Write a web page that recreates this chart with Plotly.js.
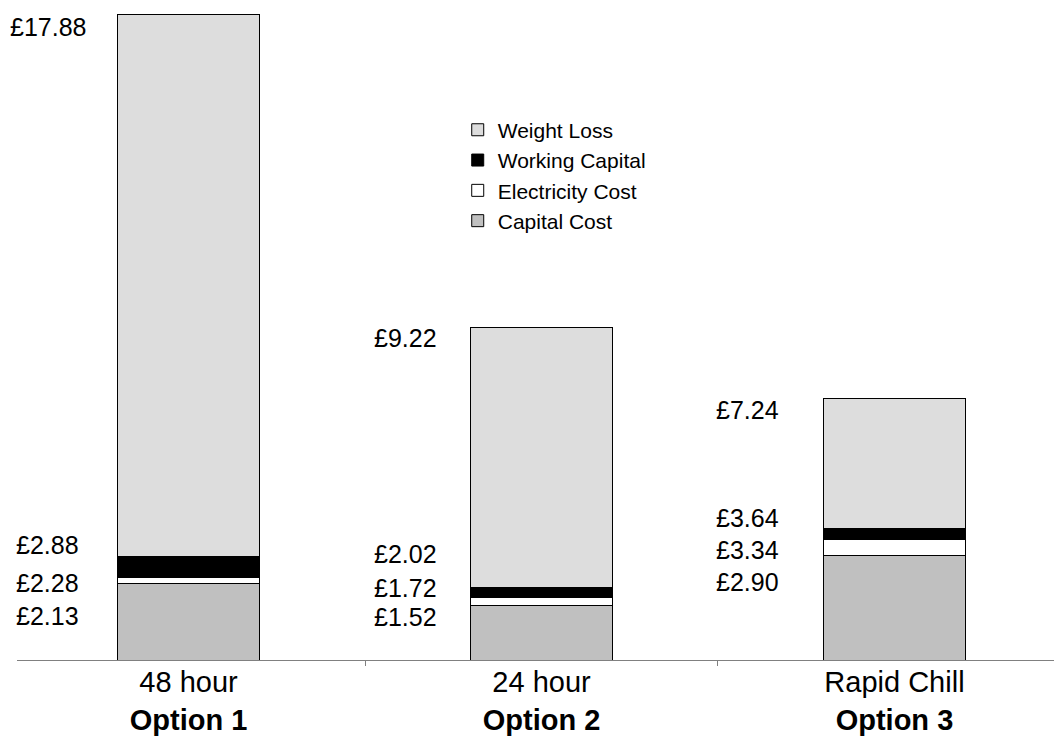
<!DOCTYPE html>
<html>
<head>
<meta charset="utf-8">
<script src="https://cdn.plot.ly/plotly-3.0.1.min.js"></script>
<style>html,body{margin:0;padding:0;background:#fff;}#chart{width:1054px;height:738px;}</style>
</head>
<body>
<div id="chart"></div>
<script>
// ---- data ----
var categories = ['48 hour', '24 hour', 'Rapid Chill'];
var optionNames = ['Option 1', 'Option 2', 'Option 3'];
var capitalCost = [2.13, 1.52, 2.90];
var electricityCost = [0.15, 0.20, 0.44];
var workingCapital = [0.60, 0.30, 0.30];
var weightLoss = [15.00, 7.20, 3.60];
var seriesNames = ['Capital Cost', 'Electricity Cost', 'Working Capital', 'Weight Loss'];

// ---- styles / label placement (pixel offsets, not data) ----
var seriesColors = ['#c0c0c0', '#ffffff', '#000000', '#dddddd'];
var labelShiftX = [-141, -136, -147];
var labelShiftDown = [[33, 5, -11, 12], [12, -10, -33, 11], [27, 11, -11, 11]];

var series = [capitalCost, electricityCost, workingCapital, weightLoss];
var traces = series.map(function (vals, i) {
  return {
    type: 'bar',
    name: seriesNames[i],
    x: categories,
    y: vals,
    width: 0.402,
    legendgroup: 'g' + i,
    legendrank: series.length - i,
    marker: {color: seriesColors[i], line: {color: '#000000', width: 1}},
    hoverinfo: 'skip'
  };
});

var annotations = [];
categories.forEach(function (c, ci) {
  var cum = 0;
  series.forEach(function (vals, si) {
    cum += vals[ci];
    annotations.push({
      x: c, y: cum, xref: 'x', yref: 'y',
      text: '£' + cum.toFixed(2),
      showarrow: false,
      xanchor: 'center', yanchor: 'middle',
      xshift: labelShiftX[ci],
      yshift: -labelShiftDown[ci][si],
      font: {family: 'Liberation Sans, Arial, sans-serif', size: 25, color: '#000'}
    });
  });
});

var tickText = categories.map(function (c, i) { return c + '<br><b>' + optionNames[i] + '</b>'; });

var layout = {
  width: 1054, height: 738,
  margin: {l: 17, r: 0, t: 14, b: 78, pad: 0},
  paper_bgcolor: '#ffffff', plot_bgcolor: '#ffffff',
  barmode: 'stack',
  showlegend: true,
  legend: {
    x: 0.425, y: 0.852, xanchor: 'left', yanchor: 'top',
    traceorder: 'grouped', tracegroupgap: 0,
    font: {family: 'Liberation Sans, Arial, sans-serif', size: 21, color: '#000'},
    bgcolor: 'rgba(0,0,0,0)', borderwidth: 0
  },
  xaxis: {
    type: 'category',
    range: [-0.486, 2.452],
    tickmode: 'array', tickvals: categories, ticktext: tickText,
    tickson: 'boundaries', ticks: 'outside', ticklen: 5, tickcolor: '#808080', tickwidth: 1,
    ticklabelstandoff: -4,
    showline: true, linecolor: '#808080', linewidth: 1,
    showgrid: false, zeroline: false,
    tickfont: {family: 'Liberation Sans, Arial, sans-serif', size: 29, color: '#000'},
    fixedrange: true
  },
  yaxis: {
    range: [0, 17.9], visible: false, showgrid: false, zeroline: false, fixedrange: true
  },
  annotations: annotations,
  font: {family: 'Liberation Sans, Arial, sans-serif', color: '#000'}
};

Plotly.newPlot('chart', traces, layout, {staticPlot: true, displayModeBar: false});
</script>
</body>
</html>
